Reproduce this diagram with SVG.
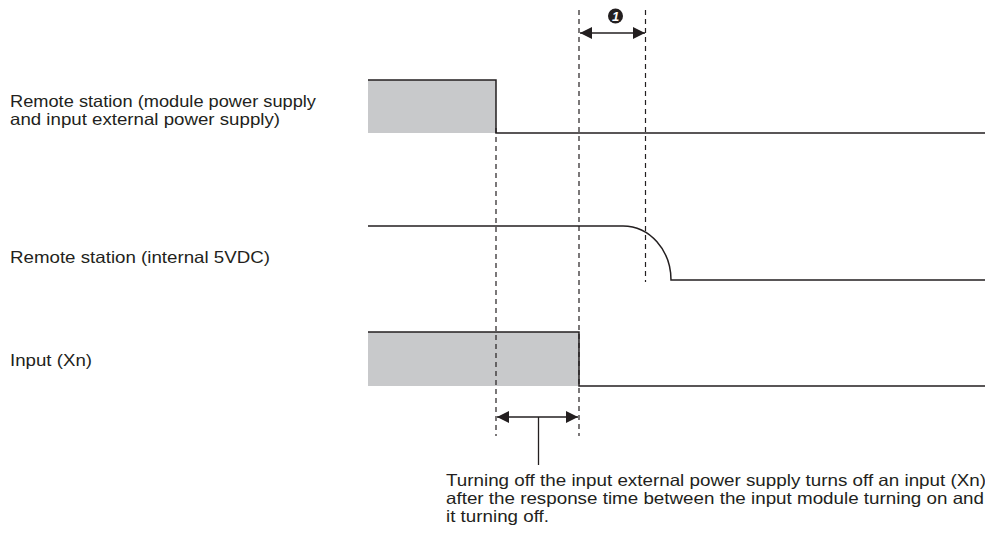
<svg xmlns="http://www.w3.org/2000/svg" width="985" height="534" viewBox="0 0 985 534">
<defs>
<style>
.lbl{font-family:"Liberation Sans",Arial,sans-serif;font-size:16.5px;fill:#231f20}
.sig{fill:none;stroke:#231f20;stroke-width:1.5}
.fill{fill:#c8c9cb;stroke:none}
.dash{stroke:#231f20;stroke-width:1.2;stroke-dasharray:5 4;fill:none}
.dim{stroke:#231f20;stroke-width:1.3;fill:none}
</style>
<marker id="ah" viewBox="0 0 12 12" refX="12" refY="6" markerWidth="12" markerHeight="12" markerUnits="userSpaceOnUse" orient="auto-start-reverse">
<path d="M0,0 L12,6 L0,12 Z" fill="#231f20"/>
</marker>
</defs>
<rect width="985" height="534" fill="#ffffff"/>

<g id="label-remote-power">
<text class="lbl" x="10" y="107" textLength="306" lengthAdjust="spacingAndGlyphs">Remote station (module power supply</text>
<text class="lbl" x="10" y="125" textLength="270" lengthAdjust="spacingAndGlyphs">and input external power supply)</text>
</g>
<g id="label-remote-5v">
<text class="lbl" x="10" y="262.5" textLength="260" lengthAdjust="spacingAndGlyphs">Remote station (internal 5VDC)</text>
</g>
<g id="label-input">
<text class="lbl" x="10" y="365.5" textLength="82" lengthAdjust="spacingAndGlyphs">Input (Xn)</text>
</g>

<g id="signal-remote-power">
<rect class="fill" x="368" y="80" width="128" height="53"/>
<path class="sig" d="M368,80 H496 V133 H985"/>
</g>
<g id="signal-remote-5v">
<path class="sig" d="M368,226 H623 A48,54 0 0 1 671,280 H985"/>
</g>
<g id="signal-input">
<rect class="fill" x="368" y="332" width="211" height="54"/>
<path class="sig" d="M368,332 H579 V386 H985"/>
</g>

<g id="connectors">
<line class="dash" x1="496" y1="128" x2="496" y2="436"/>
<line class="dash" x1="579" y1="10" x2="579" y2="436"/>
<line class="dash" x1="645.5" y1="10" x2="645.5" y2="282"/>
<line class="dim" x1="580" y1="33" x2="645" y2="33" marker-start="url(#ah)" marker-end="url(#ah)"/>
<line class="dim" x1="497" y1="417" x2="578" y2="417" marker-start="url(#ah)" marker-end="url(#ah)"/>
<line class="dim" x1="538.5" y1="417" x2="538.5" y2="465"/>
</g>

<g id="marker-1">
<circle cx="615.5" cy="16" r="7.5" fill="#231f20"/>
<text x="615.5" y="20.8" text-anchor="middle" font-family="'Liberation Sans',Arial,sans-serif" font-size="13" font-weight="bold" font-style="italic" fill="#ffffff">1</text>
</g>

<g id="note">
<text class="lbl" x="446" y="485.5" textLength="540" lengthAdjust="spacingAndGlyphs">Turning off the input external power supply turns off an input (Xn)</text>
<text class="lbl" x="446" y="504" textLength="538" lengthAdjust="spacingAndGlyphs">after the response time between the input module turning on and</text>
<text class="lbl" x="446" y="522" textLength="103" lengthAdjust="spacingAndGlyphs">it turning off.</text>
</g>
</svg>
